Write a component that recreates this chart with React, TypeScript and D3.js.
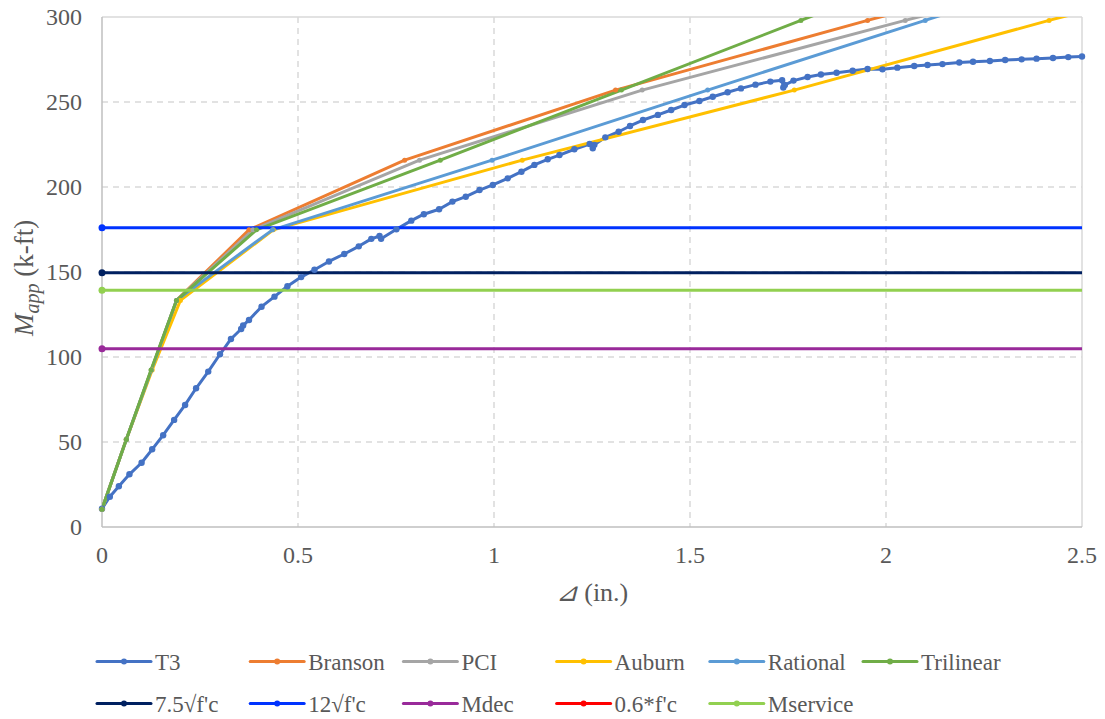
// Moment vs. deflection, T3 beam with model predictions
import React from "react"
import * as d3 from "d3"

const serifFont = "Liberation Serif"
const textColor = "#595959"

// T3 test curve (deflection in., moment k-ft)
const t3X = [0, 0.02, 0.043, 0.07, 0.101, 0.128, 0.156, 0.184, 0.212, 0.24, 0.271, 0.301, 0.329, 0.355, 0.36, 0.375, 0.407, 0.44, 0.473, 0.508, 0.542, 0.579, 0.618, 0.655, 0.687, 0.708, 0.712, 0.751, 0.789, 0.821, 0.86, 0.894, 0.928, 0.963, 0.997, 1.035, 1.07, 1.103, 1.137, 1.167, 1.205, 1.244, 1.252, 1.256, 1.284, 1.318, 1.347, 1.38, 1.418, 1.452, 1.486, 1.524, 1.558, 1.596, 1.63, 1.667, 1.705, 1.735, 1.738, 1.742, 1.764, 1.8, 1.834, 1.874, 1.915, 1.953, 1.991, 2.029, 2.072, 2.106, 2.144, 2.187, 2.222, 2.265, 2.304, 2.346, 2.384, 2.426, 2.465, 2.5]
const t3M = [10.8, 17.8, 24, 31, 37.8, 45.7, 54, 63, 71.8, 81.6, 91.4, 101.6, 110.6, 116.5, 118.5, 121.8, 129.6, 135.5, 141.6, 147, 151.3, 156.2, 160.6, 165.1, 169.5, 171.2, 169.5, 175.1, 180.2, 184, 186.9, 191.4, 194.3, 198.2, 201.2, 205.1, 209, 213, 216.3, 218.8, 222.2, 225.3, 222.8, 224.8, 229.2, 232.5, 235.9, 239.4, 242.4, 245.3, 248.2, 250.6, 253.1, 255.7, 258, 260.2, 262, 262.8, 258.5, 260, 262.6, 264.7, 266.2, 267.2, 268.4, 269.4, 269.2, 270.2, 271.2, 271.8, 272.3, 273.2, 273.7, 274.1, 274.7, 275.1, 275.5, 275.9, 276.4, 276.8]

// model predictions share the same moment levels
const modelM = [10.5, 51.5, 92.4, 133.3, 174.8, 215.8, 257, 298, 339]
const bransonX = [0, 0.062, 0.126, 0.19, 0.375, 0.772, 1.31, 1.953, 2.62]
const pciX = [0, 0.062, 0.126, 0.19, 0.385, 0.81, 1.378, 2.049, 2.75]
const auburnX = [0, 0.062, 0.128, 0.2, 0.437, 1.072, 1.766, 2.416, 3.1]
const rationalX = [0, 0.062, 0.126, 0.19, 0.435, 0.995, 1.545, 2.1, 2.65]
const trilinearX = [0, 0.062, 0.125, 0.19, 0.394, 0.863, 1.325, 1.783, 2.24]

// constant moment references
const limitX = [0, 3]
const m75 = 149.5
const m12 = 176
const mDec = 104.8
const m06 = 330
const mService = 139.3

const xTicks = [0, 0.5, 1, 1.5, 2, 2.5]
const yTicks = [0, 50, 100, 150, 200, 250, 300]

type Series = { name: string; color: string; xs: number[]; ys: number[]; r: number }

const series: Series[] = [
  { name: "T3", color: "#4472C4", xs: t3X, ys: t3M, r: 3.2 },
  { name: "Branson", color: "#ED7D31", xs: bransonX, ys: modelM, r: 2.5 },
  { name: "PCI", color: "#A5A5A5", xs: pciX, ys: modelM, r: 2.5 },
  { name: "Auburn", color: "#FFC000", xs: auburnX, ys: modelM, r: 2.5 },
  { name: "Rational", color: "#5B9BD5", xs: rationalX, ys: modelM, r: 2.5 },
  { name: "Trilinear", color: "#70AD47", xs: trilinearX, ys: modelM, r: 2.5 },
  { name: "7.5\u221Af'c", color: "#002060", xs: limitX, ys: [m75, m75], r: 3.5 },
  { name: "12\u221Af'c", color: "#0033FF", xs: limitX, ys: [m12, m12], r: 3.5 },
  { name: "Mdec", color: "#992A9A", xs: limitX, ys: [mDec, mDec], r: 3.5 },
  { name: "0.6*f'c", color: "#FF0000", xs: limitX, ys: [m06, m06], r: 3.5 },
  { name: "Mservice", color: "#92D050", xs: limitX, ys: [mService, mService], r: 3.5 },
]

const width = 1105
const height = 719
const margin = { left: 102, right: 23, top: 17, bottom: 192 }

export default function App() {
  const x = d3.scaleLinear().domain([0, 2.5]).range([margin.left, width - margin.right])
  const y = d3.scaleLinear().domain([0, 300]).range([height - margin.bottom, margin.top])

  const line = d3
    .line<[number, number]>()
    .x((d) => x(d[0]))
    .y((d) => y(d[1]))

  const [x0, x1] = x.range()
  const [yb, yt] = y.range()
  const inside = (p: [number, number]) => p[0] <= 2.5 && p[1] <= 300

  return (
    <svg width={width} height={height} style={{ position: "absolute", left: 0, top: 0 }}>
      <defs>
        <clipPath id="plotArea">
          <rect x={x0} y={yt} width={x1 - x0} height={yb - yt} />
        </clipPath>
      </defs>

      {/* gridlines */}
      {yTicks.slice(1, -1).map((t) => (
        <line key={"gy" + t} x1={x0} x2={x1} y1={y(t)} y2={y(t)} stroke="#d9d9d9" strokeWidth={1.5} strokeDasharray="6,5" />
      ))}
      {xTicks.slice(1, -1).map((t) => (
        <line key={"gx" + t} x1={x(t)} x2={x(t)} y1={yt} y2={yb} stroke="#d9d9d9" strokeWidth={1.5} strokeDasharray="6,5" />
      ))}
      <line x1={x0} x2={x1} y1={yt} y2={yt} stroke="#d9d9d9" strokeWidth={1.5} />
      <line x1={x1} x2={x1} y1={yt} y2={yb} stroke="#d9d9d9" strokeWidth={1.5} />
      <line x1={x0} x2={x0} y1={yt} y2={yb} stroke="#bfbfbf" strokeWidth={1.5} />
      <line x1={x0} x2={x1} y1={yb} y2={yb} stroke="#bfbfbf" strokeWidth={1.5} />

      {/* tick labels */}
      {yTicks.map((t) => (
        <text key={"ty" + t} fontFamily={serifFont} x={x0 - 20} y={y(t) + 8} textAnchor="end" fontSize={24} fill={textColor}>
          {t}
        </text>
      ))}
      {xTicks.map((t) => (
        <text key={"tx" + t} fontFamily={serifFont} x={x(t)} y={yb + 36} textAnchor="middle" fontSize={24} fill={textColor}>
          {t}
        </text>
      ))}

      {/* axis titles */}
      <text fontFamily={serifFont} x={(x0 + x1) / 2} y={601} textAnchor="middle" fontSize={26} fill={textColor}>
        <tspan fontStyle="italic">{"\u22BF"}</tspan>
        {" (in.)"}
      </text>
      <text fontFamily={serifFont} transform="translate(33,336) rotate(-90)" textAnchor="start" fontSize={27} fill={textColor}>
        <tspan fontStyle="italic">M</tspan>
        <tspan fontStyle="italic" fontSize={20} dy={6}>app</tspan>
        <tspan dy={-6}>{" (k-ft)"}</tspan>
      </text>

      {/* series lines */}
      <g clipPath="url(#plotArea)">
        {series.map((s) => {
          const pts = s.xs.map((v, i) => [v, s.ys[i]] as [number, number])
          return (
            <path key={s.name} d={line(pts) ?? ""} fill="none" stroke={s.color} strokeWidth={3} strokeLinejoin="round" strokeLinecap="round" />
          )
        })}
      </g>
      {/* markers, not clipped at the plot edge */}
      {series.map((s) => {
        const pts = s.xs.map((v, i) => [v, s.ys[i]] as [number, number]).filter(inside)
        return (
          <g key={"mk" + s.name}>
            {pts.map((p, i) => (
              <circle key={i} cx={x(p[0])} cy={y(p[1])} r={s.r} fill={s.color} />
            ))}
          </g>
        )
      })}

      {/* legend */}
      {series.map((s, i) => {
        const row = i < 6 ? 0 : 1
        const col = i < 6 ? i : i - 6
        const lx = 97 + col * 153.2
        const ly = row === 0 ? 661.5 : 703.5
        return (
          <g key={"lg" + s.name}>
            <line x1={lx} x2={lx + 54} y1={ly} y2={ly} stroke={s.color} strokeWidth={3} strokeLinecap="round" />
            <circle cx={lx + 27} cy={ly} r={3} fill={s.color} />
            <text fontFamily={serifFont} x={lx + 58} y={ly + 8} fontSize={23} fill={textColor}>
              {s.name}
            </text>
          </g>
        )
      })}
    </svg>
  )
}
